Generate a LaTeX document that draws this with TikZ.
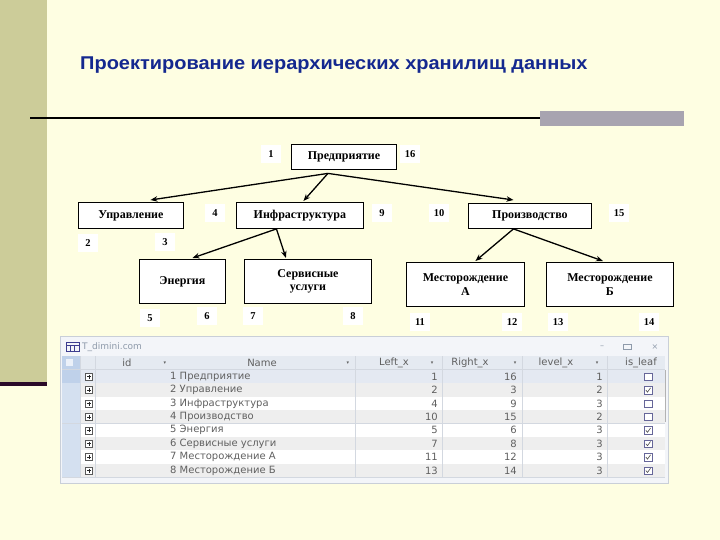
\documentclass[tikz,border=0pt]{standalone}
\usepackage{fontspec}
\usepackage{graphicx}
\setmainfont{Liberation Serif}
\newfontfamily\titlef{Liberation Sans}
\newfontfamily\tabf{DejaVu Sans}
\usetikzlibrary{arrows.meta,calc}
\definecolor{cream}{HTML}{FEFEE2}
\definecolor{olive}{HTML}{CCCC99}
\definecolor{darkbar}{HTML}{2A0A28}
\definecolor{titleblue}{HTML}{14288F}
\definecolor{graybar}{HTML}{A8A4B0}
\definecolor{winbg}{HTML}{F3F5F9}
\definecolor{winframe}{HTML}{C9CFD8}
\definecolor{headbg}{HTML}{E5EAF1}
\definecolor{selbg}{HTML}{D4E0F0}
\definecolor{selhead}{HTML}{BFD1EA}
\definecolor{rowgray}{HTML}{EEEEEE}
\definecolor{rowsel}{HTML}{E4E9F2}
\definecolor{gridc}{HTML}{D3D8E0}
\definecolor{tabtext}{HTML}{606060}
\definecolor{wintext}{HTML}{8E9AAA}
\tikzset{
  box/.style={draw=black, fill=white, line width=0.9pt, inner sep=0pt, anchor=north west,
    align=center, font=\bfseries\fontsize{12}{13.5}\selectfont},
  numlab/.style={fill=white, inner sep=0pt, minimum width=20pt, minimum height=18pt,
    font=\bfseries\fontsize{10.5}{12}\selectfont},
  arr/.style={-{Stealth[length=7pt,width=5.5pt]}, line width=1.3pt},
  tabtxt/.style={font=\tabf\fontsize{10}{11}\selectfont, text=tabtext, inner sep=0pt},
  cbox/.style={draw=gray!80!blue, fill=white, line width=0.5pt, minimum size=7.5pt, inner sep=0pt},
}
\begin{document}
\begin{tikzpicture}[x=1pt,y=-1pt]
\useasboundingbox (0,0) rectangle (720,540);
% background
\fill[cream] (0,0) rectangle (720,540);
\fill[olive] (0,0) rectangle (47,382);
\fill[darkbar] (0,382) rectangle (47,386);
% title
\node[anchor=base west, inner sep=0pt, text=titleblue, font=\titlef\bfseries\fontsize{18.5}{20}\selectfont] (title) at (80,70) {\scalebox{1.08}[1]{Проектирование иерархических хранилищ данных}};
% rule
\draw[line width=2pt] (30,118) -- (540,118);
\fill[graybar] (540,111) rectangle (684,126);

% tree nodes
\node[box, minimum width=105pt, minimum height=25pt] (pred) at (291,144) {Предприятие};
\node[box, minimum width=105pt, minimum height=26pt] (upr) at (78,202) {Управление};
\node[box, minimum width=127pt, minimum height=26pt] (infra) at (236,202) {Инфраструктура};
\node[box, minimum width=123pt, minimum height=25pt] (proiz) at (468,203) {Производство};
\node[box, minimum width=86pt, minimum height=44pt] (energ) at (139,259) {\raisebox{-4pt}{Энергия}};
\node[box, minimum width=127pt, minimum height=44pt] (serv) at (244,259) {Сервисные\\услуги};
\node[box, minimum width=118pt, minimum height=44pt] (mesA) at (406,262) {Месторождение\\А};
\node[box, minimum width=127pt, minimum height=44pt] (mesB) at (546,262) {Месторождение\\Б};

% number labels
\node[numlab] (n1) at (271,154) {1};
\node[numlab] (n16) at (410,154) {16};
\node[numlab] (n2) at (88,243) {2};
\node[numlab] (n3) at (165,242) {3};
\node[numlab] (n4) at (215,213) {4};
\node[numlab] (n9) at (382,213) {9};
\node[numlab] (n10) at (439,213) {10};
\node[numlab] (n15) at (619,213) {15};
\node[numlab] (n5) at (150,318) {5};
\node[numlab] (n6) at (207,316) {6};
\node[numlab] (n7) at (253,316) {7};
\node[numlab] (n8) at (353,316) {8};
\node[numlab] (n11) at (420,322) {11};
\node[numlab] (n12) at (512,322) {12};
\node[numlab] (n13) at (558,322) {13};
\node[numlab] (n14) at (649,322) {14};

% connectors
\coordinate (pb) at ($(pred.south)+(-16,3.5)$);
\coordinate (ib) at ($(infra.south)+(-23.5,0)$);
\coordinate (prb) at ($(proiz.south)+(-16.5,0)$);
\draw[arr] (pb) -- ($(upr.north)+(19.5,-2)$);
\draw[arr] (pb) -- ($(infra.north)+(3.5,-1)$);
\draw[arr] (pb) -- ($(proiz.north)+(-16.5,-3)$);
\draw[arr] (ib) -- ($(energ.north)+(10,-1)$);
\draw[arr] (ib) -- ($(serv.north)+(-22,-1)$);
\draw[arr] (prb) -- ($(mesA.north)+(10,-1)$);
\draw[arr] (prb) -- ($(mesB.north)+(-7,-1)$);

% ---------------- table screenshot ----------------
\fill[winbg] (60,336) rectangle (668,483);
\draw[winframe, line width=0.5pt] (60,336) rectangle (668,483);
% title bar
\draw[draw=gray!60!blue!80!black, line width=0.6pt] (66,342) rectangle (79,351);
\draw[gray!60!blue!80!black, line width=0.4pt] (66,345) -- (79,345) (70,345) -- (70,351) (74.5,345) -- (74.5,351);
\node[anchor=west, font=\tabf\fontsize{9}{10}\selectfont, text=wintext, inner sep=0pt] (wtitle) at (82,347) {T\_dimini.com};
\node[font=\tabf\fontsize{8}{9}\selectfont, text=wintext, inner sep=0pt] (wmin) at (602,347) {–};
\draw[wintext, line width=0.5pt] (623,344.5) rectangle (631,349.5);
\node[font=\tabf\fontsize{8}{9}\selectfont, text=wintext, inner sep=0pt] (wclose) at (655,347) {×};
% header
\fill[headbg] (62,356) rectangle (665,369);
\fill[selhead] (62,356) rectangle (80,369);
\fill[white!70!selhead] (66,359) rectangle (73,366);
\draw[gridc] (62,369) -- (665,369);
\foreach \xx in {80,95,355,442,522,607} { \draw[gridc, line width=0.5pt] (\xx,356) -- (\xx,477); }
\node[tabtxt] (h1) at (127,362.5) {id};
\node[tabtxt] (h2) at (262,362.5) {Name};
\node[tabtxt] (h3) at (394,362.5) {Left\_x};
\node[tabtxt] (h4) at (470,362.5) {Right\_x};
\node[tabtxt] (h5) at (556,362.5) {level\_x};
\node[tabtxt] (h6) at (641,362.5) {is\_leaf};
\foreach \xx in {165,348,432,515,597} { \node[tabtxt, font=\tabf\fontsize{5}{6}\selectfont] at (\xx,363) {▾}; }
% rows
\foreach \i/\nm/\l/\r/\lv/\lf in {
  0/1 Предприятие/1/16/1/0,
  1/2 Управление/2/3/2/1,
  2/3 Инфраструктура/4/9/3/0,
  3/4 Производство/10/15/2/0,
  4/5 Энергия/5/6/3/1,
  5/6 Сервисные услуги/7/8/3/1,
  6/7 Месторождение А/11/12/3/1,
  7/8 Месторождение Б/13/14/3/1} {
  \pgfmathsetmacro{\ytop}{370+13.4*\i}
  \pgfmathsetmacro{\ymid}{\ytop+6.7}
  \pgfmathsetmacro{\ybot}{\ytop+13.4}
  \pgfmathparse{int(mod(\i,2))}
  \ifnum\pgfmathresult=1
    \fill[rowgray] (80,\ytop) rectangle (665,\ybot);
  \else
    \ifnum\i=0 \fill[rowsel] (80,\ytop) rectangle (665,\ybot);
    \else \fill[white] (80,\ytop) rectangle (665,\ybot); \fi
  \fi
  \ifnum\i=0 \fill[selhead] (62,\ytop) rectangle (80,\ybot);
  \else \fill[selbg] (62,\ytop) rectangle (80,\ybot); \fi
  \draw[gridc, line width=0.5pt] (62,\ybot) -- (665,\ybot);
  \draw[gray!70!black, line width=0.5pt, fill=white] (85.5,\ymid-3.5) rectangle (92.5,\ymid+3.5);
  \draw[gray!30!black, line width=0.5pt] (87,\ymid) -- (91,\ymid) (89,\ymid-2) -- (89,\ymid+2);
  \node[tabtxt, anchor=west] at (170,\ymid) {\nm};
  \node[tabtxt, anchor=east] at (438,\ymid) {\l};
  \node[tabtxt, anchor=east] at (517,\ymid) {\r};
  \node[tabtxt, anchor=east] at (603,\ymid) {\lv};
  \node[cbox] (cb\i) at (648,\ymid) {};
  \ifnum\lf=1 \draw[black!70, line width=0.6pt] (645.8,\ymid) -- (647.5,\ymid+2) -- (650.5,\ymid-2.2); \fi
}
\foreach \xx in {80,95,355,442,522,607} { \draw[gridc, line width=0.5pt] (\xx,369) -- (\xx,477); }
\draw[gray!60, line width=0.8pt] (665,370) -- (665,422);
\end{tikzpicture}
\end{document}
